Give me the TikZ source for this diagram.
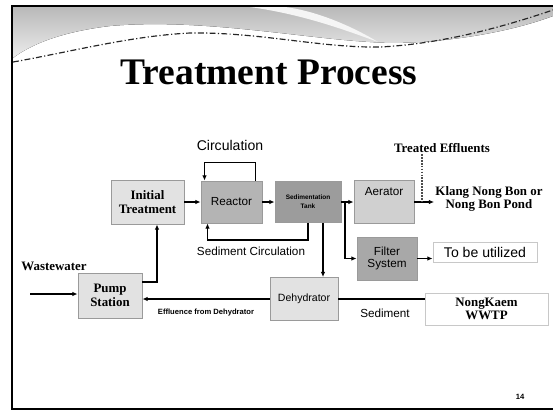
\documentclass[tikz,border=0pt]{standalone}
\usepackage{fontspec}
\setmainfont{Liberation Serif}
\setsansfont{Liberation Sans}
\usetikzlibrary{arrows.meta}

\definecolor{boxedge}{HTML}{9A9A9A}
\definecolor{paleedge}{HTML}{C8C8C8}
\definecolor{lightfill}{HTML}{E2E2E2}
\definecolor{midfill}{HTML}{B4B4B4}
\definecolor{darkfill}{HTML}{9C9C9C}
\definecolor{aerfill}{HTML}{D0D0D0}
\definecolor{filtfill}{HTML}{A8A8A8}

\tikzset{
  box/.style={draw=boxedge, line width=0.8pt, inner sep=1pt, align=center},
  serifbox/.style={box, font=\bfseries\fontsize{11}{12}\selectfont},
  sansbox/.style={box, font=\sffamily\fontsize{10}{11}\selectfont},
  flow/.style={line width=1.2pt, -{Latex[length=4.5pt,width=4pt]}},
  link/.style={line width=1.2pt},
  serifnote/.style={inner sep=1pt, font=\bfseries\fontsize{11}{11}\selectfont},
  sansnote/.style={inner sep=1pt, font=\sffamily\fontsize{12}{13}\selectfont},
  smallnote/.style={inner sep=1pt, font=\sffamily\fontsize{10}{11}\selectfont},
  tinynote/.style={inner sep=1pt, font=\sffamily\bfseries\fontsize{6.5}{7}\selectfont},
}

\begin{document}
\begin{tikzpicture}[x=0.03cm,y=-0.03cm]
\useasboundingbox (0,0) rectangle (553,411);
\fill[white] (0,0) rectangle (553,411);
% slide header
\fill[top color=gray!55,bottom color=gray!15] (13,7) -- (553,7) -- (553,16) .. controls (500,36) and (420,46) .. (370,42) .. controls (300,38) and (200,18) .. (110,26) .. controls (60,32) and (30,45) .. (13,58) -- cycle;
\fill[white!92!gray] (250,7) .. controls (300,14) and (340,28) .. (378,42) .. controls (345,22) and (310,10) .. (285,7) -- cycle;
\draw[gray!30!black, line width=1pt, dash pattern=on 5pt off 2pt on 1pt off 2pt] (13,62) .. controls (70,52) and (130,36) .. (190,33) .. controls (260,32) and (320,48) .. (380,47) .. controls (440,44) and (500,28) .. (553,10);
\draw[line width=1.5pt] (553,6) -- (12,6) -- (12,409) -- (553,409);
\node[anchor=base, inner sep=0pt, font=\bfseries\fontsize{32}{36}\selectfont] (title) at (269,84) {Treatment Process};

% process boxes
\node[serifbox, fill=lightfill, minimum width=2.19cm, minimum height=1.32cm] (init) at (147.5,202) {Initial\\Treatment};
\node[sansbox, fill=midfill, minimum width=1.83cm, minimum height=1.26cm] (reactor) at (231.5,202) {Reactor};
\node[box, fill=darkfill, minimum width=1.98cm, minimum height=1.23cm, font=\sffamily\bfseries\fontsize{5.5}{8}\selectfont] (sedtank) at (308,202) {Sedimentation\\Tank};
\node[sansbox, fill=aerfill, minimum width=1.8cm, minimum height=1.29cm, text depth=18pt] (aerator) at (384,202) {Aerator};
\node[sansbox, fill=filtfill, minimum width=1.8cm, minimum height=1.29cm, font=\sffamily\fontsize{10}{9.5}\selectfont] (filter) at (387,258.5) {Filter\\System};
\node[box, draw=paleedge, fill=white, minimum width=3.12cm, minimum height=0.6cm, font=\sffamily\fontsize{12}{13}\selectfont] (utilized) at (485,252) {To be utilized};
\node[sansbox, fill=lightfill, minimum width=2.04cm, minimum height=1.29cm, font=\sffamily\fontsize{9}{10}\selectfont] (dehyd) at (304,299) {Dehydrator};
\node[serifbox, draw=paleedge, fill=white, minimum width=3.69cm, minimum height=0.96cm, font=\bfseries\fontsize{11}{11}\selectfont] (nongkaem) at (486.5,309) {NongKaem\\WWTP};
\node[serifbox, fill=lightfill, minimum width=1.92cm, minimum height=1.35cm] (pump) at (110,295.5) {Pump\\Station};

% labels
\node[serifnote] (waste) at (54,266) {Wastewater};
\node[sansnote] (circ) at (230,145) {Circulation};
\node[smallnote] (sedlbl) at (251,251) {Sediment Circulation};
\node[serifnote] (treated) at (442,148) {Treated Effluents};
\node[serifnote, align=center] (klang) at (489,199) {Klang Nong Bon or\\Nong Bon Pond};
\node[tinynote] (effllbl) at (206,313) {Effluence from Dehydrator};
\node[smallnote] (sedi) at (385,313) {Sediment};
\node[tinynote] (page) at (520,397) {14};

% connectors
\coordinate (ww) at (30,294);
\coordinate (sedrow) at (0,240);
\coordinate (split) at (345,202);
\coordinate (effl) at (422,202);
\draw[flow] (ww) -- (ww -| pump.west);
\draw[flow] ([yshift=0.4cm]pump.east) -| ([xshift=0.285cm]init.south);
\draw[flow] (init) -- (reactor);
\draw[flow] (reactor) -- (sedtank);
\draw[flow] ([xshift=-0.21cm]reactor.north east) -- ++(0pt,0.54cm) -| ([xshift=0.12cm]reactor.north west);
\draw[flow] (sedtank.south) -- (sedtank.south |- sedrow) -| ([xshift=0.21cm]reactor.south west);
\draw[flow] ([xshift=0.45cm]sedtank.south) -- ([xshift=0.45cm]sedtank.south |- dehyd.north);
\draw[flow] (sedtank) -- (aerator);
\draw[flow] (split) |- (filter);
\draw[flow] (aerator.east) -- (aerator.east -| klang.west);
\draw[line width=1.5pt, densely dotted, gray!60!black] (effl |- treated.south) -- (effl);
\draw[flow] (filter.east) -- (filter.east -| utilized.west);
\draw[flow] (dehyd.west) -- (dehyd.west -| pump.east);
\draw[link] (dehyd.east) -- (dehyd.east -| nongkaem.west);
\end{tikzpicture}
\end{document}
